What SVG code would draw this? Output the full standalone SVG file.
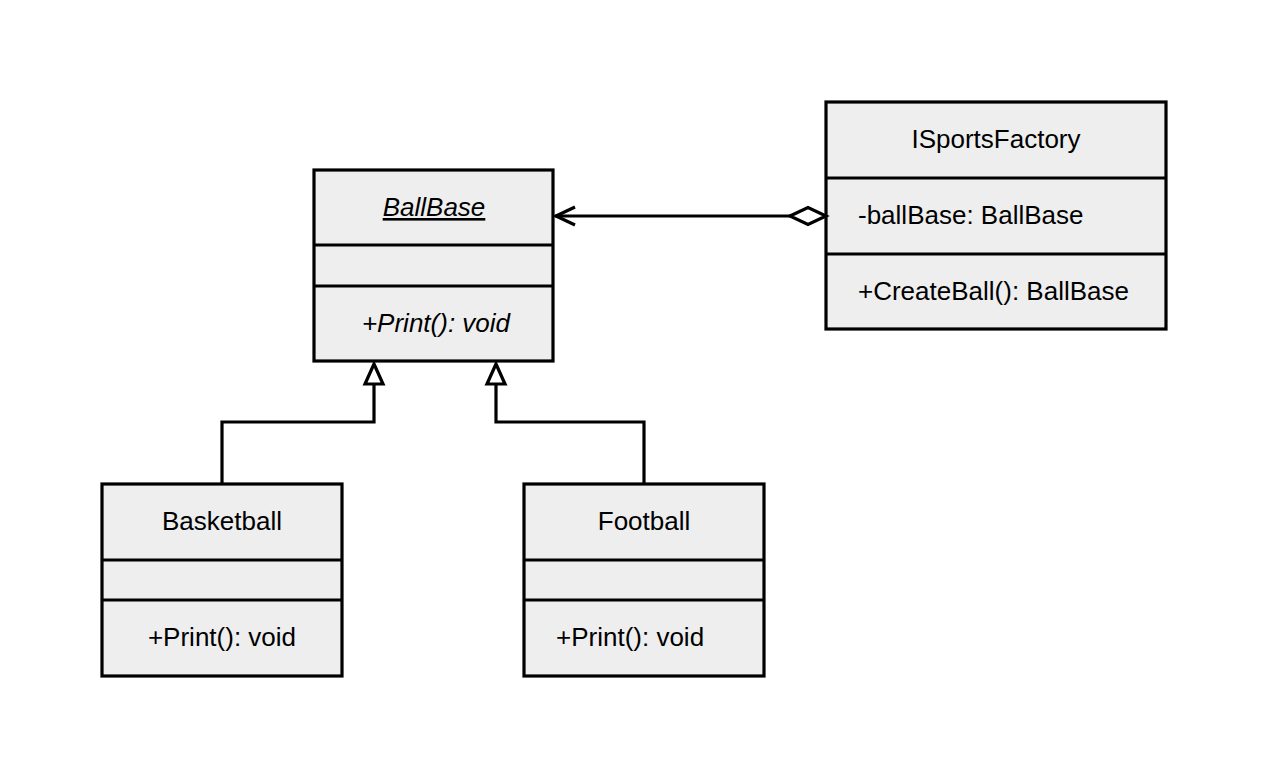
<svg xmlns="http://www.w3.org/2000/svg" width="1268" height="778" viewBox="0 0 1268 778">
<style>
.box{fill:#eeeeee;stroke:#000;stroke-width:3.2}
.div{stroke:#000;stroke-width:3.2}
.t{font-family:"Liberation Sans",Arial,sans-serif;font-size:26px;fill:#000}
.c{text-anchor:middle}
.conn{fill:none;stroke:#000;stroke-width:3.2}
</style>
<rect width="1268" height="778" fill="#fff"/>
<g id="BallBase">
<rect class="box" x="314" y="170" width="239" height="191"/>
<line class="div" x1="314" y1="245" x2="553" y2="245"/>
<line class="div" x1="314" y1="286" x2="553" y2="286"/>
<text class="t c" x="434" y="216" font-style="italic" text-decoration="underline">BallBase</text>
<text class="t c" x="436" y="332" font-style="italic">+Print(): void</text>
</g>
<g id="ISportsFactory">
<rect class="box" x="826" y="102" width="340" height="227"/>
<line class="div" x1="826" y1="178" x2="1166" y2="178"/>
<line class="div" x1="826" y1="254" x2="1166" y2="254"/>
<text class="t c" x="996" y="148">ISportsFactory</text>
<text class="t" x="858" y="224">-ballBase: BallBase</text>
<text class="t" x="858" y="300">+CreateBall(): BallBase</text>
</g>
<g id="Basketball">
<rect class="box" x="102" y="484" width="240" height="192"/>
<line class="div" x1="102" y1="560" x2="342" y2="560"/>
<line class="div" x1="102" y1="600" x2="342" y2="600"/>
<text class="t c" x="222" y="530">Basketball</text>
<text class="t c" x="222" y="646">+Print(): void</text>
</g>
<g id="Football">
<rect class="box" x="524" y="484" width="240" height="192"/>
<line class="div" x1="524" y1="560" x2="764" y2="560"/>
<line class="div" x1="524" y1="600" x2="764" y2="600"/>
<text class="t c" x="644" y="530">Football</text>
<text class="t" x="556" y="646">+Print(): void</text>
</g>
<g id="connectors">
<path class="conn" d="M790 216 L555 216"/>
<path class="conn" d="M575 207 L556 216 L575 225"/>
<path class="conn" style="fill:#fff" d="M790 216 L808 207.5 L826 216 L808 224.5 Z"/>
<path class="conn" d="M222 484 L222 422 L374 422 L374 384"/>
<path class="conn" style="fill:#fff" d="M374 364 L383 384 L365 384 Z"/>
<path class="conn" d="M644 484 L644 422 L496 422 L496 384"/>
<path class="conn" style="fill:#fff" d="M496 364 L505 384 L487 384 Z"/>
</g>
</svg>
